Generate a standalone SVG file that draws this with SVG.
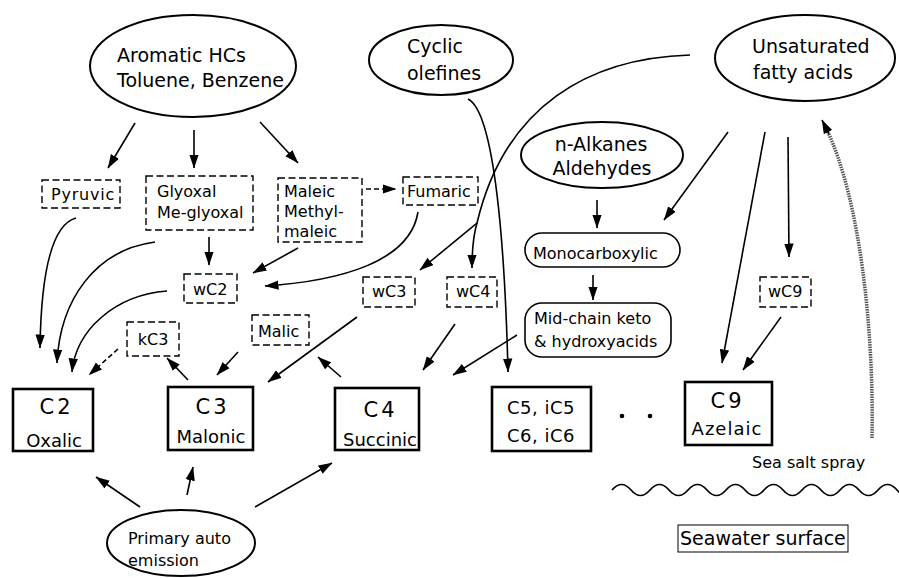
<svg xmlns="http://www.w3.org/2000/svg" width="899" height="578" viewBox="0 0 899 578">
<style>
text{font-family:"DejaVu Sans","Liberation Sans",sans-serif;fill:#000}
.big{font-size:19px}
.mid{font-size:16px}
.cn{font-size:21px;letter-spacing:3px;text-anchor:middle}
.cs{font-size:18px;text-anchor:middle}
.ell{fill:#fff;stroke:#000;stroke-width:2}
.dash{fill:#fff;stroke:#000;stroke-width:1.4;stroke-dasharray:7 3.5}
.round{fill:#fff;stroke:#000;stroke-width:1.6}
.cbox{fill:#fff;stroke:#000;stroke-width:2.6}
.c{fill:none;stroke:#000;stroke-width:1.6;marker-end:url(#ah)}
.d{stroke-dasharray:5 3}
</style>
<defs>
<marker id="ah" viewBox="0 0 14 10" refX="13.5" refY="5" markerWidth="14" markerHeight="10" markerUnits="userSpaceOnUse" orient="auto">
<path d="M0,0.3 L14,5 L0,9.7 z" fill="#000"/>
</marker>
</defs>
<rect width="899" height="578" fill="#fff"/>

<g id="connectors">
<path class="c" d="M135,123 L108,168"/>
<path class="c" d="M194,130 L194,168"/>
<path class="c" d="M260,122 L298,163"/>
<path class="c" d="M76,218 C50,225 41,280 40,348"/>
<path class="c" d="M155,242 C95,250 60,300 57,363"/>
<path class="c" d="M167,291 C115,295 76,330 72,372"/>
<path class="c" d="M209,237 L209,265"/>
<path class="c" d="M298,248 L253,273"/>
<path class="c" d="M418,212 C410,262 340,281 265,286"/>
<path class="c d" d="M366,189 L396,189"/>
<path class="c d" d="M118,349 L89,375"/>
<path class="c" d="M188,380 L167,358"/>
<path class="c" d="M238,352 L217,375"/>
<path class="c" d="M357,317 L268,382"/>
<path class="c" d="M341,377 L318,357"/>
<path class="c" d="M455,324 L423,370"/>
<path class="c" d="M517,335 L453,375"/>
<path class="c" d="M468,99 C495,112 505,250 508,372"/>
<path class="c" d="M690,55 C590,58 505,105 477,223 L420,270"/>
<path class="c" d="M477,223 Q472,240 472,268"/>
<path class="c" d="M728,132 L664,220"/>
<path class="c" d="M765,132 L722,363"/>
<path class="c" d="M788,137 L789,257"/>
<path class="c" d="M781,317 L743,370"/>
<path class="c" d="M597,200 L597,228"/>
<path class="c" d="M593,275 L593,300"/>
<path d="M872,438 C874,330 860,200 827,130" fill="none" stroke="#555" stroke-width="3.5" stroke-dasharray="1.5 1"/>
<path class="c" d="M829,134 L822,120" stroke-width="1"/>
<path class="c" d="M140,507 L96,477"/>
<path class="c" d="M187,495 L193,467"/>
<path class="c" d="M255,507 L332,463"/>
</g>

<g id="aromatic">
<ellipse class="ell" cx="193" cy="66" rx="103" ry="51"/>
<text class="big" x="117" y="62">Aromatic HCs</text>
<text class="big" x="117" y="87">Toluene, Benzene</text>
</g>
<g id="cyclic">
<ellipse class="ell" cx="441" cy="60" rx="72" ry="35"/>
<text class="big" x="407" y="53">Cyclic</text>
<text class="big" x="407" y="80">olefines</text>
</g>
<g id="unsaturated">
<ellipse class="ell" cx="805" cy="58" rx="90" ry="43"/>
<text class="big" x="752" y="53">Unsaturated</text>
<text class="big" x="753" y="79">fatty acids</text>
</g>
<g id="alkanes">
<ellipse class="ell" cx="602" cy="155" rx="81" ry="33"/>
<text class="big" x="601" y="151" text-anchor="middle">n-Alkanes</text>
<text class="big" x="602" y="175" text-anchor="middle">Aldehydes</text>
</g>
<g id="primary">
<ellipse class="ell" cx="181" cy="543" rx="74" ry="33"/>
<text class="mid" x="128" y="544">Primary auto</text>
<text class="mid" x="128" y="566">emission</text>
</g>

<g id="pyruvic">
<rect class="dash" x="42" y="180" width="78" height="28"/>
<text class="mid" x="51" y="200" letter-spacing="0.8">Pyruvic</text>
</g>
<g id="glyoxal">
<rect class="dash" x="146" y="176" width="107" height="54"/>
<text class="mid" x="157" y="197">Glyoxal</text>
<text class="mid" x="157" y="218">Me-glyoxal</text>
</g>
<g id="maleic">
<rect class="dash" x="278" y="178" width="84" height="64"/>
<text class="mid" x="284" y="197">Maleic</text>
<text class="mid" x="284" y="217">Methyl-</text>
<text class="mid" x="284" y="237">maleic</text>
</g>
<g id="fumaric">
<rect class="dash" x="403" y="177" width="75" height="28"/>
<text class="mid" x="407" y="197">Fumaric</text>
</g>
<g id="wC2">
<rect class="dash" x="184" y="274" width="53" height="29"/>
<text class="mid" x="193" y="295">wC2</text>
</g>
<g id="kC3">
<rect class="dash" x="127" y="322" width="52" height="34"/>
<text class="mid" x="153" y="345" text-anchor="middle">kC3</text>
</g>
<g id="malic">
<rect class="dash" x="252" y="315" width="57" height="30"/>
<text class="mid" x="258" y="337">Malic</text>
</g>
<g id="wC3">
<rect class="dash" x="363" y="277" width="52" height="30"/>
<text class="mid" x="372" y="297">wC3</text>
</g>
<g id="wC4">
<rect class="dash" x="447" y="277" width="50" height="30"/>
<text class="mid" x="456" y="297">wC4</text>
</g>
<g id="wC9">
<rect class="dash" x="760" y="277" width="51" height="30"/>
<text class="mid" x="768" y="297">wC9</text>
</g>
<g id="monocarboxylic">
<rect class="round" x="525" y="233" width="155" height="34" rx="17"/>
<text class="mid" x="533" y="259">Monocarboxylic</text>
</g>
<g id="midchain">
<rect class="round" x="525" y="303" width="146" height="54" rx="17"/>
<text class="mid" x="534" y="324">Mid-chain keto</text>
<text class="mid" x="534" y="347">&amp; hydroxyacids</text>
</g>

<g id="C2">
<rect class="cbox" x="13" y="389" width="80" height="62"/>
<text class="cn" x="56.5" y="414">C2</text>
<text class="cs" x="54" y="447">Oxalic</text>
</g>
<g id="C3">
<rect class="cbox" x="168" y="387" width="85" height="63"/>
<text class="cn" x="212.5" y="414">C3</text>
<text class="cs" x="211" y="443">Malonic</text>
</g>
<g id="C4">
<rect class="cbox" x="335" y="388" width="84" height="62"/>
<text class="cn" x="380.5" y="417">C4</text>
<text class="cs" x="380" y="446">Succinic</text>
</g>
<g id="C5">
<rect class="cbox" x="492" y="387" width="99" height="64"/>
<text class="cs" x="541" y="414" letter-spacing="0.5">C5, iC5</text>
<text class="cs" x="541" y="442" letter-spacing="0.5">C6, iC6</text>
</g>
<g id="dots">
<circle cx="622" cy="416" r="2.3"/>
<circle cx="650" cy="416" r="2.3"/>
</g>
<g id="C9">
<rect class="cbox" x="685" y="382" width="87" height="63"/>
<text class="cn" x="727.5" y="408">C9</text>
<text class="cs" x="727" y="435" letter-spacing="1">Azelaic</text>
</g>

<g id="seasalt">
<text class="mid" x="752" y="468">Sea salt spray</text>
</g>
<g id="sea">
<path d="M612,490 q9.5,-11 19,0 t19,0 t19,0 t19,0 t19,0 t19,0 t19,0 t19,0 t19,0 t19,0 t19,0 t19,0 t19,0 t19,0 t19,0 t19,0" fill="none" stroke="#000" stroke-width="1.7"/>
</g>
<g id="seawater">
<rect x="678" y="525" width="170" height="27" fill="#fff" stroke="#000" stroke-width="1"/>
<text class="big" x="680" y="545">Seawater surface</text>
</g>
</svg>
